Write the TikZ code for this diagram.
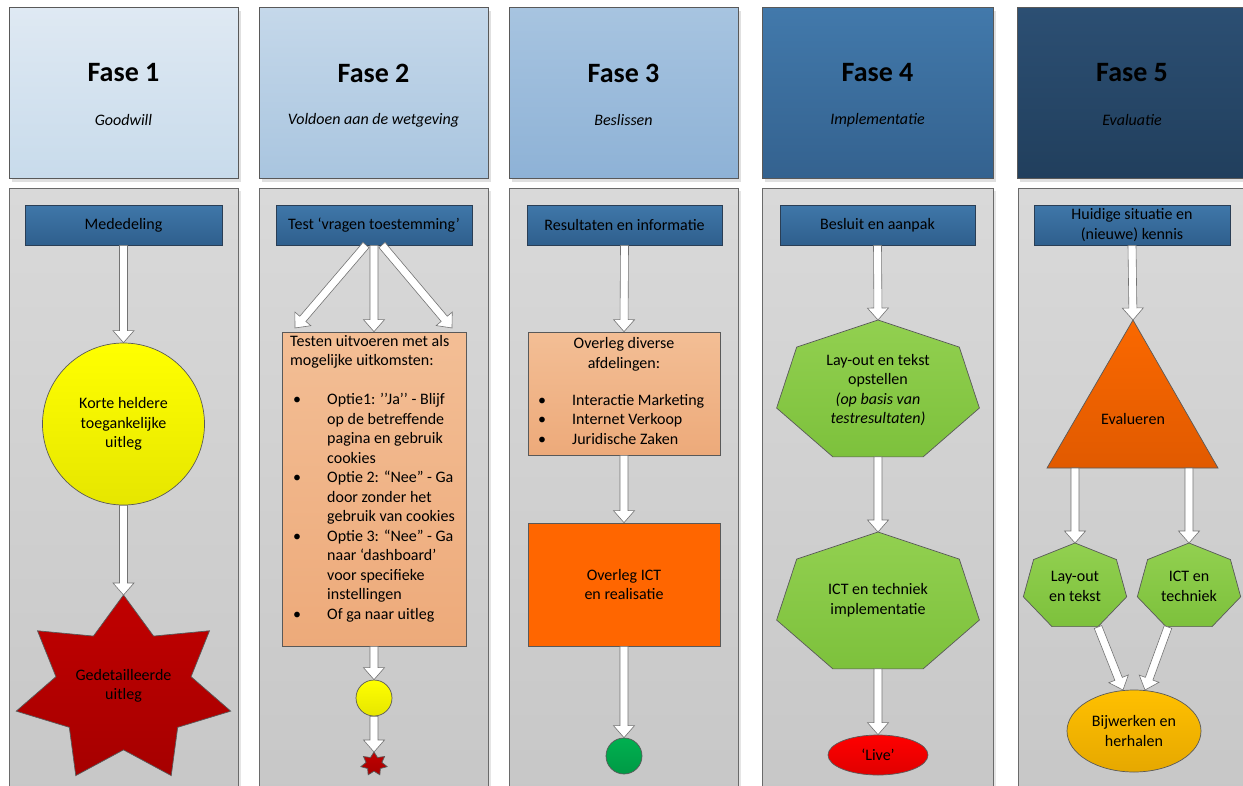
\documentclass[tikz,border=0pt]{standalone}
\usepackage{fontspec}
\setmainfont{Carlito}
\usetikzlibrary{calc,shadows,shapes.geometric}

% phase header gradients
\definecolor{hAtop}{HTML}{DFE9F3}\definecolor{hAbot}{HTML}{C8DBEB}
\definecolor{hBtop}{HTML}{C5D8EA}\definecolor{hBbot}{HTML}{A9C5DF}
\definecolor{hCtop}{HTML}{A7C4E0}\definecolor{hCbot}{HTML}{8EB2D6}
\definecolor{hDtop}{HTML}{4279AB}\definecolor{hDbot}{HTML}{34628F}
\definecolor{hEtop}{HTML}{2C4F73}\definecolor{hEbot}{HTML}{213F5D}
% step colours
\definecolor{bluetop}{HTML}{3F77A9}\definecolor{bluebot}{HTML}{2F5F8D}
\definecolor{bluedge}{HTML}{2A3E55}
\definecolor{lanetop}{HTML}{D9D9D9}\definecolor{lanebot}{HTML}{C7C7C7}
\definecolor{edge}{HTML}{595959}
\definecolor{yeltop}{HTML}{FFFF00}\definecolor{yelbot}{HTML}{E6E600}
\definecolor{redtop}{HTML}{C00000}\definecolor{redbot}{HTML}{A60000}
\definecolor{peachtop}{HTML}{F3BE95}\definecolor{peachbot}{HTML}{EDAA7A}
\definecolor{ictorange}{HTML}{FF6600}
\definecolor{grntop}{HTML}{00B050}\definecolor{grnbot}{HTML}{009A45}
\definecolor{limetop}{HTML}{92D050}\definecolor{limebot}{HTML}{7DC13C}
\definecolor{livetop}{HTML}{FF0000}\definecolor{livebot}{HTML}{E00000}
\definecolor{tritop}{HTML}{FA6800}\definecolor{tribot}{HTML}{E15A00}
\definecolor{goldtop}{HTML}{FFC000}\definecolor{goldbot}{HTML}{E6A800}

\tikzset{
  every node/.style={font=\fontsize{16}{19.5}\selectfont, text=black},
  header/.style={draw=edge, line width=0.8pt, minimum height=171pt, inner sep=0pt,
    drop shadow={shadow xshift=3pt, shadow yshift=-4pt, fill=black!12, opacity=1}},
  lane/.style={draw=edge!90, line width=0.8pt, minimum height=612pt, inner sep=0pt,
    top color=lanetop, bottom color=lanebot,
    drop shadow={shadow xshift=3pt, shadow yshift=-3pt, fill=black!10, opacity=1}},
  fasetitle/.style={font=\fontsize{28}{32}\selectfont\bfseries},
  fasesub/.style={font=\fontsize{16}{19.5}\selectfont\itshape},
  bluebox/.style={draw=bluedge, line width=0.8pt, top color=bluetop, bottom color=bluebot,
    minimum height=40pt, inner xsep=2pt, inner ysep=1pt, align=center},
  shapeline/.style={draw=edge, line width=0.7pt},
  peachbox/.style={shapeline, top color=peachtop, bottom color=peachbot, inner sep=0pt},
  arrowline/.style={draw=black!55, fill=white, line width=0.6pt, line join=miter},
}

% hollow block arrow from #1 to #2
\newcommand{\flowarrow}[2]{%
  \draw[arrowline] let \p1=(#1), \p2=(#2),
    \n1={atan2(\y2-\y1,\x2-\x1)}, \n2={veclen(\x2-\x1,\y2-\y1)} in
    [shift={(\p1)}, rotate=\n1]
    (0pt,-4pt) -- ({\n2-12pt},-4pt) -- ({\n2-12pt},-10.5pt) -- ({\n2-0pt},0pt)
    -- ({\n2-12pt},10.5pt) -- ({\n2-12pt},4pt) -- (0pt,4pt) -- cycle;}

% seven-pointed star: style, name, cx, cy, rx, ry, inner ratio
\newcommand{\sevenstar}[7]{%
  \draw[#1] ({#3},{#4-#6})
    \foreach \k in {1,...,13} {
      -- ({#3+#5*(1-(1-#7)*mod(\k,2))*cos(-90+\k*25.7143)},
          {#4+#6*(1-(1-#7)*mod(\k,2))*sin(-90+\k*25.7143)}) } -- cycle;
  \coordinate (#2-top) at ({#3},{#4-#6});}

% heptagon: style, name, cx, cy, rx, ry
\newcommand{\heptagon}[6]{%
  \draw[#1] ({#3},{#4-#6})
    \foreach \k in {1,...,6} {
      -- ({#3+#5*cos(-90+\k*51.4286)},{#4+#6*sin(-90+\k*51.4286)}) } -- cycle;
  \coordinate (#2-top) at ({#3},{#4-#6});
  \coordinate (#2-bottom) at ({#3},{#4+0.901*#6});}

\newcommand{\optbullet}{\makebox[37pt][l]{\hspace{3pt}\textbullet}}
\newcommand{\optindent}{\hspace*{37pt}}

\begin{document}
\begin{tikzpicture}[x=1pt,y=-1pt]
\clip (0,0) rectangle (1243,785);
\fill[white] (0,0) rectangle (1243,785);

% ---------- phase headers ----------
\node[header, minimum width=229pt, top color=hAtop, bottom color=hAbot] (fase1) at (123.5,92.5) {};
\node[header, minimum width=229pt, top color=hBtop, bottom color=hBbot] (fase2) at (373.5,92.5) {};
\node[header, minimum width=229pt, top color=hCtop, bottom color=hCbot] (fase3) at (623.5,92.5) {};
\node[header, minimum width=231pt, top color=hDtop, bottom color=hDbot] (fase4) at (877.5,92.5) {};
\node[header, minimum width=230pt, top color=hEtop, bottom color=hEbot] (fase5) at (1132,92.5) {};

\node[fasetitle] (fase1t) at (123.5,73) {Fase 1};
\node[fasesub]   (fase1s) at (123.5,120) {Goodwill};
\node[fasetitle] (fase2t) at (373.5,73) {Fase 2};
\node[fasesub]   (fase2s) at (373.5,120) {Voldoen aan de wetgeving};
\node[fasetitle] (fase3t) at (623.5,73) {Fase 3};
\node[fasesub]   (fase3s) at (623.5,120) {Beslissen};
\node[fasetitle] (fase4t) at (877.5,73) {Fase 4};
\node[fasesub]   (fase4s) at (877.5,120) {Implementatie};
\node[fasetitle] (fase5t) at (1132,73) {Fase 5};
\node[fasesub]   (fase5s) at (1132,120) {Evaluatie};

% ---------- lanes ----------
\node[lane, minimum width=229pt] (lane1) at (123.5,494) {};
\node[lane, minimum width=229pt] (lane2) at (373.5,494) {};
\node[lane, minimum width=229pt] (lane3) at (623.5,494) {};
\node[lane, minimum width=231pt] (lane4) at (877.5,494) {};
\node[lane, minimum width=230pt] (lane5) at (1133,494) {};

% ---------- lane 1: Goodwill ----------
\node[bluebox, minimum width=197pt] (med) at (123.5,225) {Mededeling};
\node[circle, shapeline, top color=yeltop, bottom color=yelbot, minimum size=162pt,
      inner sep=0pt, align=center] (kort) at (123.5,424) {Korte heldere\\toegankelijke\\uitleg};
\sevenstar{shapeline, top color=redtop, bottom color=redbot}{bigstar}{123.5}{690}{110}{95}{0.63}
\node[align=center] (detail) at (123.5,686) {Gedetailleerde\\uitleg};
\flowarrow{med.south}{kort.north}
\flowarrow{kort.south}{bigstar-top}

% ---------- lane 2: Voldoen aan de wetgeving ----------
\node[bluebox, minimum width=196pt] (test) at (374,225) {Test ‘vragen toestemming’};
\node[peachbox, minimum width=184pt, minimum height=314pt] (opties) at (374,489) {};
\node[anchor=north west, align=left, inner sep=0pt] (optiestekst) at (290,335) {%
Testen uitvoeren met als\\
mogelijke uitkomsten:\\[19.5pt]
\optbullet Optie1: ’’Ja’’ - Blijf\\
\optindent op de betreffende\\
\optindent pagina en gebruik\\
\optindent cookies\\
\optbullet Optie 2: “Nee” - Ga\\
\optindent door zonder het\\
\optindent gebruik van cookies\\
\optbullet Optie 3: “Nee” - Ga\\
\optindent naar ‘dashboard’\\
\optindent voor specifieke\\
\optindent instellingen\\
\optbullet Of ga naar uitleg};
\coordinate (testL) at (366,245);
\coordinate (testR) at (382,245);
\coordinate (optiesL) at (295,328);
\coordinate (optiesR) at (452,328);
\flowarrow{testL}{optiesL}
\flowarrow{test.south}{opties.north}
\flowarrow{testR}{optiesR}
\node[circle, shapeline, top color=yeltop, bottom color=yelbot, minimum size=36pt,
      inner sep=0pt] (kortklein) at (374,698) {};
\sevenstar{shapeline, top color=redtop, bottom color=redbot}{smallstar}{374}{764}{13.5}{12}{0.6}
\flowarrow{opties.south}{kortklein.north}
\flowarrow{kortklein.south}{smallstar-top}

% ---------- lane 3: Beslissen ----------
\node[bluebox, minimum width=195pt] (result) at (624.5,225) {Resultaten en informatie};
\node[peachbox, minimum width=192pt, minimum height=123pt] (overleg) at (624,393.5) {};
\node[align=center] (overlegkop) at (624,354.5) {Overleg diverse\\afdelingen:};
\node[anchor=north west, align=left, inner sep=0pt] (afdelingen) at (535,394) {%
\optbullet Interactie Marketing\\
\optbullet Internet Verkoop\\
\optbullet Juridische Zaken};
\node[shapeline, fill=ictorange, minimum width=192pt, minimum height=123pt,
      align=center] (ict) at (624,584.5) {Overleg ICT\\en realisatie};
\node[circle, shapeline, top color=grntop, bottom color=grnbot, minimum size=36pt,
      inner sep=0pt] (klaar) at (624,756) {};
\flowarrow{result.south}{overleg.north}
\flowarrow{overleg.south}{ict.north}
\flowarrow{ict.south}{klaar.north}

% ---------- lane 4: Implementatie ----------
\node[bluebox, minimum width=195pt] (besluit) at (877.5,225) {Besluit en aanpak};
\heptagon{shapeline, top color=limetop, bottom color=limebot}{layout}{878}{392}{104}{72}
\node[align=center] (layouttekst) at (878,390) {Lay-out en tekst\\opstellen\\\textit{(op basis van}\\\textit{testresultaten)}};
\heptagon{shapeline, top color=limetop, bottom color=limebot}{techniek}{878}{604}{104}{72}
\node[align=center] (techniektekst) at (878,600) {ICT en techniek\\implementatie};
\node[ellipse, shapeline, top color=livetop, bottom color=livebot, minimum width=100pt,
      minimum height=40pt, inner sep=0pt] (live) at (878,755) {‘Live’};
\flowarrow{besluit.south}{layout-top}
\flowarrow{layout-bottom}{techniek-top}
\flowarrow{techniek-bottom}{live.north}

% ---------- lane 5: Evaluatie ----------
\node[bluebox, minimum width=196pt] (huidig) at (1132,225) {Huidige situatie en\\(nieuwe) kennis};
\draw[shapeline, top color=tritop, bottom color=tribot] (1133,320) -- (1218,468) -- (1047,468) -- cycle;
\coordinate (evalTop) at (1133,320);
\coordinate (evalL) at (1075,468);
\coordinate (evalR) at (1189,468);
\node (evalueren) at (1133,419) {Evalueren};
\heptagon{shapeline, top color=limetop, bottom color=limebot}{lay}{1075}{587}{53}{44}
\node[align=center] (laytekst) at (1075,586.5) {Lay-out\\en tekst};
\heptagon{shapeline, top color=limetop, bottom color=limebot}{tech}{1189}{587}{53}{44}
\node[align=center] (techtekst) at (1189,586.5) {ICT en\\techniek};
\node[ellipse, shapeline, top color=goldtop, bottom color=goldbot, minimum width=134pt,
      minimum height=82pt, inner sep=0pt, align=center] (bijwerken) at (1134,731) {Bijwerken en\\herhalen};
\coordinate (layOut) at (1098,627);
\coordinate (techOut) at (1168,627);
\coordinate (bijL) at (1123,690);
\coordinate (bijR) at (1145,690);
\flowarrow{huidig.south}{evalTop}
\flowarrow{evalL}{lay-top}
\flowarrow{evalR}{tech-top}
\flowarrow{layOut}{bijL}
\flowarrow{techOut}{bijR}
\end{tikzpicture}
\end{document}
